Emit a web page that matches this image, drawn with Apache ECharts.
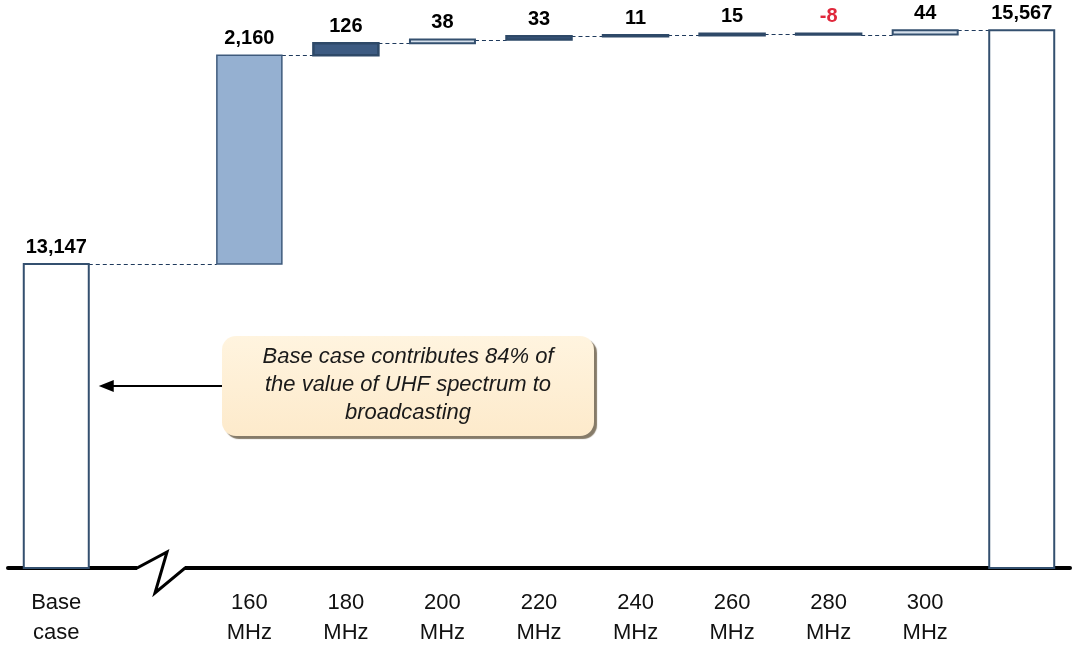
<!DOCTYPE html>
<html>
<head>
<meta charset="utf-8">
<title>UHF spectrum value waterfall</title>
<script src="https://cdn.jsdelivr.net/npm/echarts@6/dist/echarts.min.js"></script>
<style>
  html, body { margin: 0; padding: 0; background: #fff; }
  #chart { width: 1074px; height: 648px; }
</style>
</head>
<body>
<div id="chart"></div>
<script>
// Categories along the x axis (the empty slot after "Base case" is the axis break)
const categories = ['Base case', '', '160 MHz', '180 MHz', '200 MHz', '220 MHz',
                    '240 MHz', '260 MHz', '280 MHz', '300 MHz', ''];
// Increment for each step; first and last entries are absolute totals
const changes = [13147, null, 2160, 126, 38, 33, 11, 15, -8, 44, 15567];
// How each bar is drawn
const barKinds = ['total', 'gap', 'major', 'dark', 'light', 'dark', 'dark', 'dark', 'dark', 'light', 'total'];
// Value axis range (axis is broken below 10,000)
const axisMin = 10000;
const axisMax = 15880;

const BAR_W = 65;
const FONT = '"Liberation Sans", Arial, Helvetica, sans-serif';

const kindStyles = {
  total: { fill: '#ffffff', stroke: '#34506f', lineWidth: 2 },
  major: { fill: '#95b0d1', stroke: '#3e5a7c', lineWidth: 1.5 },
  dark:  { fill: '#3d5b82', stroke: '#2e4968', lineWidth: 2.5 },
  light: { fill: '#d6e0ec', stroke: '#34506f', lineWidth: 2 }
};
const kindNames = Object.keys(kindStyles);

// Floating bar geometry: [category index, start, end, style index]
const bars = [];
const levels = [];
let running = 0;
changes.forEach((d, i) => {
  const kind = barKinds[i];
  if (kind === 'gap' || d == null) { levels.push(null); return; }
  let start, end;
  if (kind === 'total') { start = axisMin; end = d; }
  else { start = running; end = running + d; }
  running = end;
  bars.push([i, start, end, kindNames.indexOf(kind)]);
  levels.push(end);
});

// Dashed connectors between consecutive drawn bars: [from index, level, to index]
const connectors = [];
let prev = null;
levels.forEach((lv, i) => {
  if (lv == null) return;
  if (prev !== null) connectors.push([prev, levels[prev], i]);
  prev = i;
});

const chart = echarts.init(document.getElementById('chart'), null, { renderer: 'canvas' });

chart.setOption({
  animation: false,
  backgroundColor: '#ffffff',
  grid: { left: 8, right: 4, top: 0, bottom: 80, containLabel: false, outerBoundsMode: 'none' },
  xAxis: {
    type: 'category',
    data: categories,
    axisLine: { onZero: false, lineStyle: { color: '#000000', width: 4 } },
    axisTick: { show: false },
    axisLabel: {
      interval: 0,
      margin: 20,
      fontSize: 22,
      lineHeight: 30,
      color: '#111111',
      fontFamily: FONT,
      formatter: v => v.replace(' ', '\n')
    },
    splitLine: { show: false }
  },
  yAxis: { type: 'value', min: axisMin, max: axisMax, show: false },
  series: [
    {
      name: 'connector',
      type: 'custom',
      silent: true,
      z: 2,
      encode: { x: 0, y: 1 },
      data: connectors,
      renderItem: (params, api) => {
        const a = api.coord([api.value(0), api.value(1)]);
        const b = api.coord([api.value(2), api.value(1)]);
        const y = Math.round(a[1]) + 0.5;
        return {
          type: 'line',
          shape: { x1: a[0] + BAR_W / 2, y1: y, x2: b[0] - BAR_W / 2, y2: y },
          style: { stroke: '#1f3a5c', lineWidth: 1.2, lineDash: [4, 3] }
        };
      }
    },
    {
      name: 'value',
      type: 'custom',
      z: 3,
      encode: { x: 0, y: [1, 2] },
      data: bars,
      renderItem: (params, api) => {
        const idx = api.value(0);
        const s = api.value(1), e = api.value(2);
        const st = kindStyles[kindNames[api.value(3)]];
        const top = api.coord([idx, Math.max(s, e)]);
        const bot = api.coord([idx, Math.min(s, e)]);
        const d = changes[idx];
        return {
          type: 'group',
          children: [
            {
              type: 'rect',
              shape: { x: top[0] - BAR_W / 2, y: top[1], width: BAR_W, height: bot[1] - top[1] },
              style: { fill: st.fill, stroke: st.stroke, lineWidth: st.lineWidth }
            },
            {
              type: 'text',
              x: top[0],
              y: top[1] - 7,
              style: {
                text: d.toLocaleString('en-US'),
                font: 'bold 20px ' + FONT,
                fill: d < 0 ? '#e0283c' : '#000000',
                align: 'center',
                verticalAlign: 'bottom'
              }
            }
          ]
        };
      }
    }
  ]
});

// Decorations placed relative to the axis baseline
const baseY = chart.convertToPixel({ yAxisIndex: 0 }, axisMin);
const baseX = chart.convertToPixel({ xAxisIndex: 0 }, 0);
chart.setOption({
  graphic: [
    // axis break
    { type: 'rect', shape: { x: 137, y: baseY - 4, width: 48, height: 8 }, style: { fill: '#ffffff' }, z: 50 },
    { type: 'polyline', shape: { points: [[108, baseY], [137, baseY], [167, baseY - 16], [155, baseY + 25], [185, baseY], [210, baseY]] },
      style: { stroke: '#000000', lineWidth: 3, fill: null, lineJoin: 'miter' }, z: 51 },
    // callout box
    { type: 'rect', shape: { x: 222, y: 336, width: 372, height: 100, r: 14 },
      style: {
        fill: new echarts.graphic.LinearGradient(0, 0, 0, 1, [
          { offset: 0, color: '#fff4df' }, { offset: 1, color: '#fdeacb' }
        ]),
        shadowColor: 'rgba(120,108,88,0.9)', shadowOffsetX: 3, shadowOffsetY: 3, shadowBlur: 1
      }, z: 20 },
    { type: 'text', x: 408, y: 385, z: 21,
      style: {
        text: 'Base case contributes 84% of\nthe value of UHF spectrum to\nbroadcasting',
        font: 'italic 22px ' + FONT, fill: '#1a1a1a', align: 'center', verticalAlign: 'middle', lineHeight: 28
      } },
    // arrow pointing at the base-case bar
    { type: 'line', shape: { x1: 222, y1: 386, x2: baseX + BAR_W / 2 + 22, y2: 386 }, style: { stroke: '#000000', lineWidth: 2 }, z: 20 },
    { type: 'polygon', shape: { points: [[baseX + BAR_W / 2 + 10, 386], [baseX + BAR_W / 2 + 25, 380], [baseX + BAR_W / 2 + 25, 392]] },
      style: { fill: '#000000' }, z: 20 }
  ]
});
</script>
</body>
</html>
